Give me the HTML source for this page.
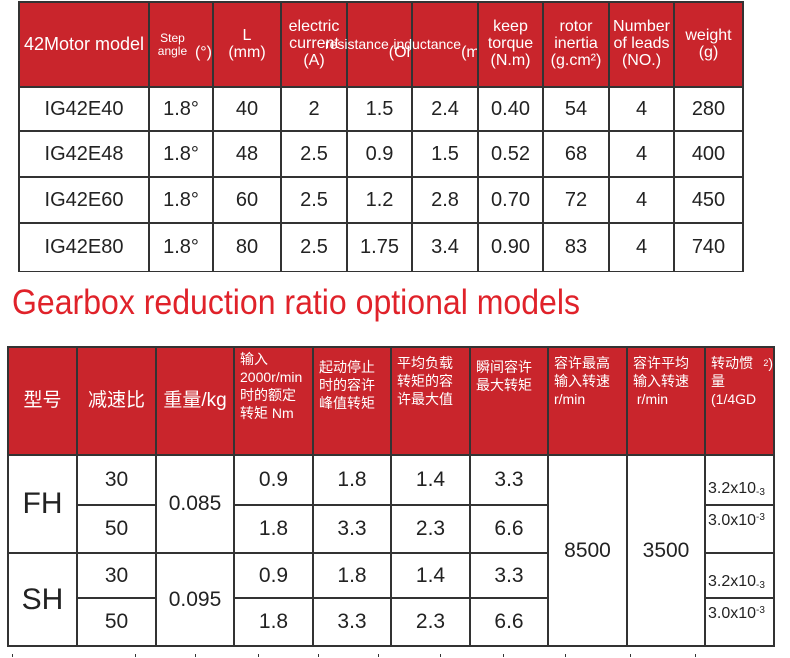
<!DOCTYPE html>
<html><head><meta charset="utf-8"><style>
html,body{margin:0;padding:0;background:#fff;}
#root{position:relative;width:790px;height:658px;overflow:hidden;font-family:"Liberation Sans","Noto Sans CJK SC",sans-serif;}
.c{position:absolute;box-sizing:border-box;border:2px solid #333;display:flex;align-items:center;justify-content:center;text-align:center;color:#222;}
.h{background:#c9252c;color:#fff;line-height:1.05;}
.t1{font-size:20px;}
.t2{font-size:21px;}
.hl{justify-content:flex-start;align-items:flex-start;text-align:left;padding:6px 0 0 5px;font-size:14px;line-height:18px;}
#title{position:absolute;left:12px;top:283px;font-size:35px;color:#e0222a;white-space:nowrap;transform-origin:0 0;}
.tick{position:absolute;width:1px;height:3px;background:#333;}
</style></head><body>
<div id="root">
<div id="title">Gearbox reduction ratio optional models</div>
</div>
<script>
const root=document.getElementById('root');
function cell(x1,y1,x2,y2,html,cls,name){
  const d=document.createElement('div');
  d.className='c '+cls;
  d.style.left=(x1-1)+'px';d.style.top=(y1-1)+'px';
  d.style.width=(x2-x1+2)+'px';d.style.height=(y2-y1+2)+'px';
  d.innerHTML=html;
  
  
  root.appendChild(d);
  return d;
}
// Table 1
const t1x=[19,149,213,281,347,412,478,543,609,674,743];
const t1y=[2,87,131,177,223,271];
const t1head=['<span style="font-size:18px">42Motor model</span>','<span style="font-size:12px">Step angle</span><br>(°)','L<br>(mm)','electric<br>current<br>(A)','<span style="font-size:14px">resistance</span><br>(Ohm)','<span style="font-size:14px">inductance</span><br>(mH)','keep<br>torque<br>(N.m)','rotor<br>inertia<br>(g.cm²)','Number<br>of leads<br>(NO.)','weight<br>(g)'];
const t1rows=[
 ['IG42E40','1.8°','40','2','1.5','2.4','0.40','54','4','280'],
 ['IG42E48','1.8°','48','2.5','0.9','1.5','0.52','68','4','400'],
 ['IG42E60','1.8°','60','2.5','1.2','2.8','0.70','72','4','450'],
 ['IG42E80','1.8°','80','2.5','1.75','3.4','0.90','83','4','740']];
for(let i=0;i<10;i++){
  const d=cell(t1x[i],t1y[0],t1x[i+1],t1y[1],t1head[i],'h','motor-header-'+i);
  d.style.fontSize='16px';
}
for(let r=0;r<4;r++)for(let i=0;i<10;i++){
  const d=cell(t1x[i],t1y[r+1],t1x[i+1],t1y[r+2],t1rows[r][i],'t1','motor-cell-'+r+'-'+i);
  if(r==3){d.style.borderBottomWidth='1px';}
}
// Table 2
const t2x=[8,77,156,234,313,391,470,548,627,705,774];
const t2y=[347,455,505,553,598,646];
const t2head=['型号','减速比','重量/kg','输入<br>2000r/min<br>时的额定<br>转矩 Nm','起动停止<br>时的容许<br>峰值转矩','平均负载<br>转矩的容<br>许最大值','瞬间容许<br>最大转矩','容许最高<br>输入转速<br>r/min','容许平均<br>输入转速<br>&nbsp;r/min','转动惯量<br>(1/4GD<sup style="font-size:9px">2</sup>)'];
for(let i=0;i<10;i++){
  const d=cell(t2x[i],t2y[0],t2x[i+1],t2y[1],t2head[i],'h'+(i>=3?' hl':''),'gearbox-header-'+i);
  if(i<3){d.style.fontSize='19px';}
  if(i==3||i==4||i==6){d.style.paddingTop='4px';d.style.paddingTop='10px';}
  if(i==3){d.style.paddingTop='2px';}
}
const models=['FH','SH'];
const weights=['0.085','0.095'];
const ratios=['30','50','30','50'];
const ratedTorque=['0.9','1.8','0.9','1.8'];
const peakTorque=['1.8','3.3','1.8','3.3'];
const avgTorque=['1.4','2.3','1.4','2.3'];
const instTorque=['3.3','6.6','3.3','6.6'];
const inertia=['3.2','3.0','3.2','3.0'];
for(let m=0;m<2;m++){
  const d=cell(t2x[0],t2y[1+2*m],t2x[1],t2y[3+2*m],models[m],'','model-'+models[m]);
  d.style.fontSize='30px';
  cell(t2x[2],t2y[1+2*m],t2x[3],t2y[3+2*m],weights[m],'t2','weight-'+models[m]);
}
for(let r=0;r<4;r++){
  const cols=[ratios,null,ratedTorque,peakTorque,avgTorque,instTorque];
  cell(t2x[1],t2y[1+r],t2x[2],t2y[2+r],ratios[r],'t2','ratio-'+r);
  cell(t2x[3],t2y[1+r],t2x[4],t2y[2+r],ratedTorque[r],'t2','rated-torque-'+r);
  cell(t2x[4],t2y[1+r],t2x[5],t2y[2+r],peakTorque[r],'t2','peak-torque-'+r);
  cell(t2x[5],t2y[1+r],t2x[6],t2y[2+r],avgTorque[r],'t2','avg-torque-'+r);
  cell(t2x[6],t2y[1+r],t2x[7],t2y[2+r],instTorque[r],'t2','instant-torque-'+r);
  const d=cell(t2x[9],t2y[1+r],t2x[10],t2y[2+r],inertia[r]+'x10<sup style="font-size:10px">-3</sup>','','inertia-'+r);
  d.style.fontSize='16px';d.style.justifyContent='flex-start';d.style.paddingLeft='2px';
  d.style.alignItems=(r%2==0)?'flex-end':'flex-start';
  d.style.paddingTop=(r%2==0)?'0':'6px';d.style.paddingBottom=(r%2==0)?'6px':'0';
}
cell(t2x[7],t2y[1],t2x[8],t2y[5],'8500','t2','max-input-speed');
cell(t2x[8],t2y[1],t2x[9],t2y[5],'3500','t2','avg-input-speed');
const tickX=[12,135,195,258,318,378,440,503,565,630,695];
for(const x of tickX){
  const t=document.createElement('div');t.className='tick';t.style.left=x+'px';t.style.top='654px';
  
  
  root.appendChild(t);
}
const title=document.getElementById('title');
const w=title.getBoundingClientRect().width;
title.style.transform='scaleX('+(568/w)+')';
</script>
</body></html>
